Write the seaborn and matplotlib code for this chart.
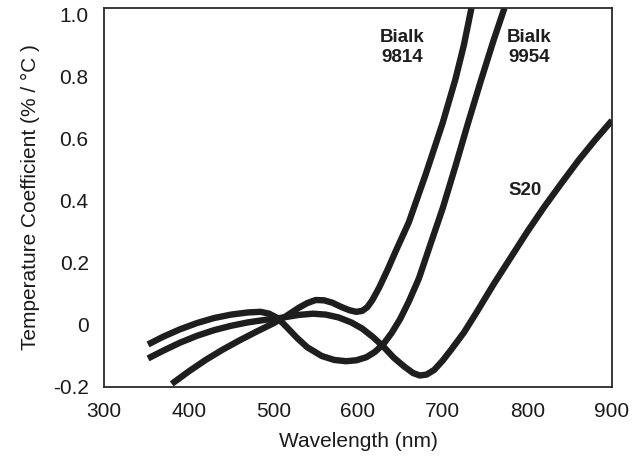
import matplotlib
matplotlib.use("Agg")
import matplotlib.pyplot as plt
import seaborn as sns
import pandas as pd

# ---- data ----
bialk9814_wl = [380, 400, 420, 440, 460, 480, 500, 515, 530, 540, 550, 560, 570, 580,
                590, 598, 605, 611, 617, 625, 635, 645, 660, 680, 700, 715, 725, 734]
bialk9814_tc = [-0.19, -0.15, -0.113, -0.08, -0.05, -0.022, 0.005, 0.028, 0.055, 0.07,
                0.08, 0.079, 0.071, 0.058, 0.047, 0.042, 0.045, 0.057, 0.08, 0.12,
                0.178, 0.24, 0.33, 0.485, 0.65, 0.79, 0.9, 1.02]

bialk9954_wl = [352, 370, 390, 410, 430, 450, 470, 485, 495, 505, 515, 528, 540, 557,
                572, 586, 598, 610, 620, 630, 640, 650, 660, 672, 685, 700, 715, 730,
                745, 760, 773]
bialk9954_tc = [-0.063, -0.038, -0.014, 0.006, 0.022, 0.033, 0.04, 0.042, 0.036, 0.022,
                -0.005, -0.042, -0.072, -0.1, -0.113, -0.117, -0.114, -0.104, -0.087,
                -0.062, -0.025, 0.02, 0.075, 0.15, 0.255, 0.375, 0.51, 0.65, 0.785,
                0.915, 1.02]

s20_wl = [352, 370, 390, 410, 430, 450, 470, 490, 510, 530, 547, 562, 577, 592, 605,
          618, 630, 642, 655, 665, 673, 681, 690, 700, 710, 725, 740, 760, 780, 800,
          820, 840, 860, 880, 900]
s20_tc = [-0.108, -0.083, -0.057, -0.035, -0.017, -0.003, 0.008, 0.016, 0.023, 0.032,
          0.036, 0.033, 0.024, 0.008, -0.012, -0.04, -0.07, -0.105, -0.135, -0.155,
          -0.163, -0.16, -0.145, -0.115, -0.08, -0.025, 0.04, 0.13, 0.215, 0.3, 0.38,
          0.455, 0.528, 0.595, 0.658]

x_ticks = [300, 400, 500, 600, 700, 800, 900]
y_ticks = [-0.2, 0, 0.2, 0.4, 0.6, 0.8, 1.0]
y_tick_labels = ["-0.2", "0", "0.2", "0.4", "0.6", "0.8", "1.0"]

labels = [("Bialk\n9814", 652, 0.893), ("Bialk\n9954", 802, 0.893), ("S20", 797, 0.432)]

# ---- plotting ----
sns.set_theme(style="white")
plt.rcParams["font.family"] = ["Liberation Sans", "DejaVu Sans"]

fig = plt.figure(figsize=(6.32, 4.61), dpi=100)
ax = fig.add_axes([104 / 632, 1 - 387 / 461, 508 / 632, 379 / 461])

line_color = "#1e1e1e"
for wl, tc in [(bialk9814_wl, bialk9814_tc), (bialk9954_wl, bialk9954_tc), (s20_wl, s20_tc)]:
    df = pd.DataFrame({"wl": wl, "tc": tc})
    sns.lineplot(data=df, x="wl", y="tc", ax=ax, color=line_color, linewidth=4.6,
                 sort=False, estimator=None, solid_capstyle="butt", solid_joinstyle="round")

ax.set_xlim(300, 900)
ax.set_ylim(-0.2, 1.02)
ax.set_xticks(x_ticks)
ax.set_xticklabels([str(t) for t in x_ticks])
ax.set_yticks(y_ticks)
ax.set_yticklabels(y_tick_labels)
ax.tick_params(axis="both", length=0, labelsize=15, colors="#1a1a1a")
ax.tick_params(axis="y", pad=11)
ax.tick_params(axis="x", pad=11)

for s in ax.spines.values():
    s.set_visible(True)
    s.set_color("#2a2a2a")
    s.set_linewidth(1.3)

ax.set_xlabel("Wavelength (nm)", fontsize=15, color="#1a1a1a", labelpad=8)
ax.set_ylabel("Temperature Coefficient (% / °C )", fontsize=15, color="#1a1a1a")
ax.yaxis.set_label_coords(-0.125, 0.5)

for txt, x, y in labels:
    ax.text(x, y, txt, fontsize=13.5, fontweight="bold", ha="center", va="center",
            color="#1e1e1e", linespacing=1.2)

fig.savefig("out.png", dpi=100)
